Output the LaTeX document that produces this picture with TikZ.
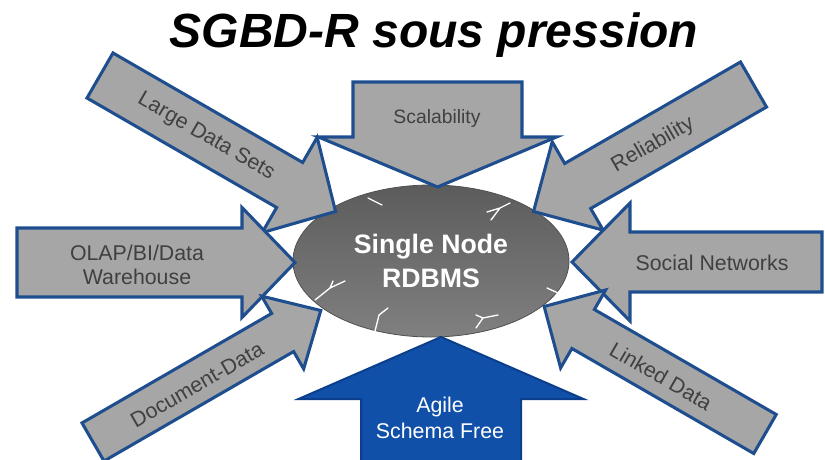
\documentclass[tikz,border=0pt]{standalone}
\usepackage{fontspec}
\setmainfont{Liberation Sans}
\usetikzlibrary{shapes.geometric}

\definecolor{arrowgray}{HTML}{A6A6A6}
\definecolor{arrowedge}{HTML}{1F4E8F}
\definecolor{agileblue}{HTML}{1150A8}
\definecolor{agileedge}{HTML}{0B3F8C}
\definecolor{labelgray}{HTML}{404040}
\definecolor{coretop}{HTML}{5C5C5C}
\definecolor{corebottom}{HTML}{808080}
\definecolor{coreedge}{HTML}{505050}

\tikzset{
  grayarrow/.style={fill=arrowgray, draw=arrowedge, line width=2.3pt, line join=miter},
  bluearrow/.style={fill=agileblue, draw=agileedge, line width=1.5pt, line join=miter},
  lbl/.style={text=labelgray, font=\fontsize{16}{18}\selectfont, align=center, inner sep=0pt},
  bluelbl/.style={text=white, font=\fontsize{16}{20}\selectfont, align=center, inner sep=0pt},
  crack/.style={draw=white, line width=1pt, line cap=round, line join=round},
}

% block arrow: style, tail x, tail y, angle, length, shaft half-width,
% head half-width, head length, name of the tip coordinate
\newcommand{\blockarrow}[9]{%
  \begin{scope}[shift={(#2,#3)}, rotate=#4]
    \draw[#1] (0,#6) -- ({#5-#8},#6) -- ({#5-#8},#7) -- (#5,0) coordinate (#9)
      -- ({#5-#8},-#7) -- ({#5-#8},-#6) -- (0,-#6) -- cycle;
  \end{scope}}

\begin{document}
\begin{tikzpicture}[x=0.75pt, y=-0.75pt]
  \useasboundingbox (0,0) rectangle (825,460);
  \clip (0,0) rectangle (825,460);

  % title
  \node[anchor=base, font=\fontsize{36}{40}\selectfont\bfseries\itshape] (title)
    at (434,48) {SGBD-R sous pression};

  % central database
  \node[ellipse, minimum width=207pt, minimum height=114pt, inner sep=0pt,
        top color=coretop, bottom color=corebottom, draw=coreedge, line width=0.6pt,
        text=white, align=center,
        font=\fontsize{20}{26}\selectfont\bfseries] (core) at (431,261) {Single Node\\RDBMS};

  % cracks in the database
  \draw[crack] (368,198) -- (382,205);
  \draw[crack] (487,212) -- (500,208) -- (510,203) (500,208) -- (491,220);
  \draw[crack] (315,300) -- (330,288) -- (345,281) (330,288) -- (333,281);
  \draw[crack] (375,331) -- (379,315) -- (388,308);
  \draw[crack] (476,328) -- (483,318) -- (498,315) (483,318) -- (476,315);
  \draw[crack] (547,288) -- (558,293);

  % pressure arrows
  \blockarrow{grayarrow}{100}{75.5}{-30}{272}{26}{55}{53}{tipLarge}
  \blockarrow{grayarrow}{437.5}{82}{-90}{105}{84.5}{119}{50}{tipScal}
  \blockarrow{grayarrow}{753.5}{84.5}{210}{254}{26}{51}{51}{tipRel}
  \blockarrow{grayarrow}{17}{262.5}{0}{278}{34.5}{55}{53}{tipOlap}
  \blockarrow{grayarrow}{822}{262}{180}{250}{30}{59}{58}{tipSocial}
  \blockarrow{grayarrow}{93}{442}{30}{263}{22}{42}{44}{tipDoc}
  \blockarrow{grayarrow}{765}{434}{150}{255}{22.5}{45}{45}{tipLinked}
  \blockarrow{bluearrow}{441}{470}{90}{133}{80}{142.5}{62}{tipAgile}

  % arrow labels
  \node[lbl, rotate=-30] (lLarge) at (206,137) {Large Data Sets};
  \node[lbl, font=\fontsize{14.5}{18}\selectfont] (lScal) at (437,119) {Scalability};
  \node[lbl, rotate=30] (lRel) at (653,145) {Reliability};
  \node[lbl] (lOlap) at (137,265) {OLAP/BI/Data\\Warehouse};
  \node[lbl] (lSocial) at (712,263) {Social Networks};
  \node[lbl, rotate=30] (lDoc) at (197,385) {Document-Data};
  \node[lbl, rotate=-30] (lLinked) at (661,376) {Linked Data};
  \node[bluelbl] (lAgile) at (440,418) {Agile\\Schema Free};
\end{tikzpicture}
\end{document}
